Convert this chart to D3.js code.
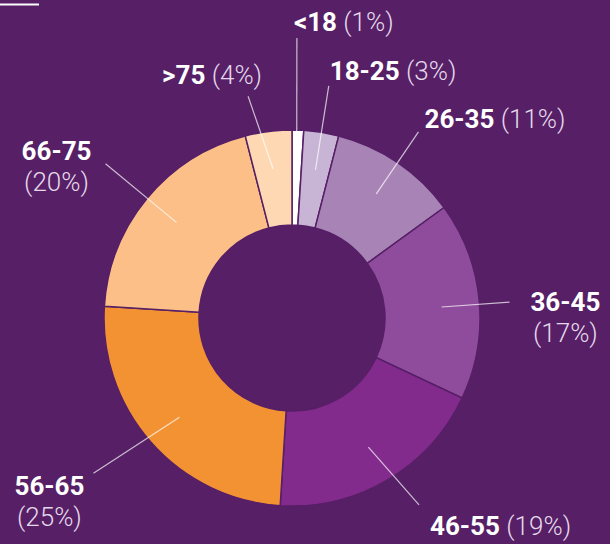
<!DOCTYPE html>
<html>
<head>
<meta charset="utf-8">
<script src="https://cdn.jsdelivr.net/npm/d3@7"></script>
<style>
  html, body { margin: 0; padding: 0; background: #561f66; }
  svg { display: block; }
  text { font-family: Roboto, "Noto Sans", sans-serif; }
</style>
</head>
<body>
<div id="chart"></div>
<script>
// ------ Data ------
const ageGroups = ["<18", "18-25", "26-35", "36-45", "46-55", "56-65", "66-75", ">75"];
const shares = [1, 3, 11, 17, 19, 25, 20, 4];
const sliceColors = ["#ffffff", "#c8b5d6", "#a884b6", "#904c9c", "#832a8d", "#f39233", "#fbbf87", "#fdd8b3"];

// label layout (leader length, angle nudge, text anchor & offset, split into two lines)
const leaderEnd = [280, 235, 225, 218, 226, 252, 242, 226];
const leaderNudge = [-0.8, 0, 0, 1.2, -3.6, 3.4, 0, -4];
const labelAnchor = ["start", "start", "start", "middle", "start", "middle", "middle", "end"];
const labelDx = [-3, 1, 6, 56, 11, -44, -49, 14];
const labelDy = [-7, -6, -4, 9, 30, 22, -4, -12];
const twoLines = [false, false, false, true, false, true, true, false];

const width = 610, height = 544;
const cx = 292, cy = 318;
const outerR = 188, innerR = 93;
const bg = "#561f66";

const svg = d3.select("#chart")
  .append("svg")
  .attr("width", width)
  .attr("height", height);

svg.append("rect")
  .attr("width", width)
  .attr("height", height)
  .attr("fill", bg);

// cut-off header underline at the top-left
svg.append("line")
  .attr("x1", 0).attr("x2", 39)
  .attr("y1", 4.5).attr("y2", 4.5)
  .attr("stroke", "#ffffff")
  .attr("stroke-width", 2);

const g = svg.append("g")
  .attr("transform", `translate(${cx},${cy})`);

const data = ageGroups.map((a, i) => ({ age: a, value: shares[i], i: i }));

const pie = d3.pie()
  .sort(null)
  .value(d => d.value);

const arcs = pie(data);

const arc = d3.arc()
  .innerRadius(innerR)
  .outerRadius(outerR);

g.selectAll("path.slice")
  .data(arcs)
  .join("path")
  .attr("class", "slice")
  .attr("d", arc)
  .attr("fill", d => sliceColors[d.data.i])
  .attr("stroke", bg)
  .attr("stroke-width", 1.5);

// leader lines
function pointAt(a, r) {
  return [Math.sin(a) * r, -Math.cos(a) * r];
}

const labels = arcs.map(d => {
  const i = d.data.i;
  const mid = (d.startAngle + d.endAngle) / 2;
  const ang = mid + leaderNudge[i] * Math.PI / 180;
  return {
    d: d,
    start: pointAt(i === 3 ? ang : mid, 150),
    end: pointAt(ang, leaderEnd[i])
  };
});

g.selectAll("line.leader")
  .data(labels)
  .join("line")
  .attr("class", "leader")
  .attr("x1", l => l.start[0])
  .attr("y1", l => l.start[1])
  .attr("x2", l => l.end[0])
  .attr("y2", l => l.end[1])
  .attr("stroke", "#ffffff")
  .attr("stroke-opacity", 0.7)
  .attr("stroke-width", 1.2);

const txt = g.selectAll("text.label")
  .data(labels)
  .join("text")
  .attr("class", "label")
  .attr("x", l => l.end[0] + labelDx[l.d.data.i])
  .attr("y", l => l.end[1] + labelDy[l.d.data.i])
  .attr("text-anchor", l => labelAnchor[l.d.data.i])
  .style("font-size", "26px");

txt.append("tspan")
  .attr("fill", "#ffffff")
  .style("font-weight", 700)
  .text(l => l.d.data.age);

txt.append("tspan")
  .attr("fill", "#e4d8ea")
  .style("font-weight", 300)
  .attr("x", l => twoLines[l.d.data.i] ? l.end[0] + labelDx[l.d.data.i] : null)
  .attr("dy", l => twoLines[l.d.data.i] ? 31 : null)
  .text(l => (twoLines[l.d.data.i] ? "" : " ") + "(" + l.d.data.value + "%)");
</script>
</body>
</html>
